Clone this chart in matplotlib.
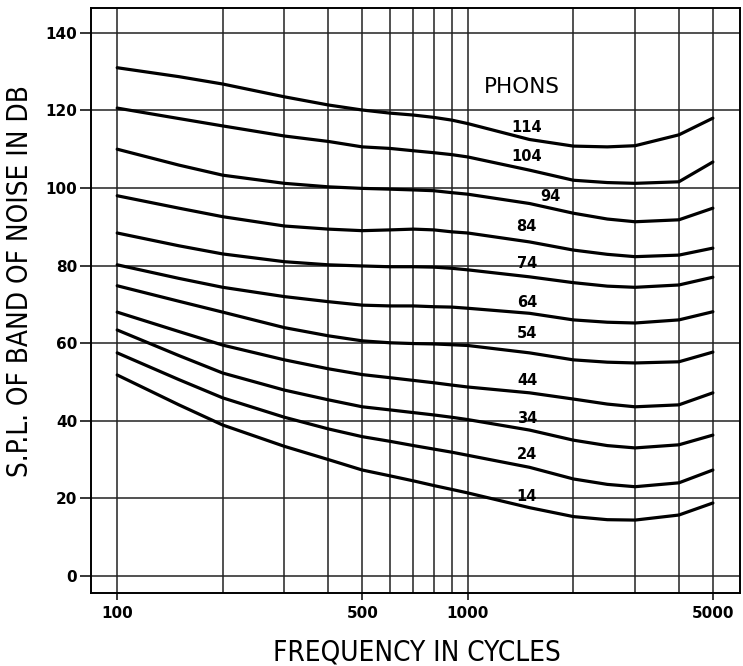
import numpy as np
import matplotlib
matplotlib.use('Agg')
import matplotlib.pyplot as plt
from matplotlib import font_manager

## ------------  Data  ------------------------------------
freq = [100, 150, 200, 300, 400, 500, 600, 700, 800, 900, 1000, 1500, 2000, 2500, 3000, 4000, 5000]
phons = [114, 104, 94, 84, 74, 64, 54, 44, 34, 24, 14]
spl = {
	114: [131.0, 128.7, 126.8, 123.5, 121.4, 120.1, 119.3, 118.8, 118.2, 117.5, 116.6, 112.5, 110.8, 110.6, 110.9, 113.7, 118.0],
	104: [120.6, 117.9, 116.0, 113.4, 112.0, 110.6, 110.2, 109.6, 109.1, 108.6, 108.0, 104.6, 102.0, 101.4, 101.2, 101.6, 106.7],
	94:  [110.0, 105.9, 103.3, 101.2, 100.3, 99.9, 99.7, 99.5, 99.3, 98.8, 98.4, 96.0, 93.5, 92.0, 91.3, 91.8, 94.8],
	84:  [98.0, 94.8, 92.6, 90.2, 89.4, 89.0, 89.2, 89.4, 89.2, 88.7, 88.4, 86.1, 84.0, 82.9, 82.3, 82.7, 84.5],
	74:  [88.4, 85.1, 83.0, 81.0, 80.2, 79.9, 79.7, 79.7, 79.6, 79.3, 78.9, 77.1, 75.6, 74.7, 74.4, 75.0, 77.0],
	64:  [80.2, 76.7, 74.4, 72.0, 70.7, 69.8, 69.6, 69.6, 69.4, 69.3, 69.0, 67.7, 66.0, 65.4, 65.2, 66.0, 68.1],
	54:  [74.8, 70.8, 68.0, 64.0, 61.9, 60.6, 60.1, 59.9, 59.8, 59.6, 59.4, 57.5, 55.7, 55.1, 54.9, 55.2, 57.7],
	44:  [68.0, 63.0, 59.5, 55.7, 53.4, 51.9, 51.1, 50.4, 49.8, 49.2, 48.7, 47.2, 45.6, 44.3, 43.6, 44.1, 47.2],
	34:  [63.4, 56.8, 52.3, 47.9, 45.4, 43.6, 42.8, 42.1, 41.5, 40.9, 40.3, 37.6, 35.0, 33.6, 33.0, 33.8, 36.3],
	24:  [57.5, 50.6, 45.9, 40.9, 37.9, 35.9, 34.7, 33.6, 32.7, 31.9, 31.1, 28.0, 25.0, 23.6, 23.0, 24.0, 27.3],
	14:  [51.8, 44.1, 38.9, 33.4, 30.0, 27.3, 25.8, 24.5, 23.3, 22.3, 21.4, 17.6, 15.3, 14.5, 14.4, 15.7, 18.8],
}
# label positions (freq, dB)
label_pos = {
	114: (1470, 115.7), 104: (1470, 108.0), 94: (1720, 97.7), 84: (1470, 90.2),
	74: (1480, 80.6), 64: (1480, 70.6), 54: (1480, 62.6), 44: (1480, 50.5),
	34: (1480, 40.7), 24: (1480, 31.2), 14: (1470, 20.4),
}
grid_freq = [100, 200, 300, 400, 500, 600, 700, 800, 900, 1000, 2000, 3000, 4000, 5000]
grid_db = [0, 20, 40, 60, 80, 100, 120, 140]
xtick_vals = [100, 500, 1000, 5000]
xtick_labels = ['100', '500', '1000', '5000']

## ------------  Fonts  ---------------
cond = [f for f in font_manager.fontManager.ttflist
	if f.name == 'DejaVu Sans' and str(f.stretch) in ('condensed', 'semi-condensed', '500', '400')]
if cond:
	title_font = dict(family='DejaVu Sans', fontstretch='condensed', fontsize=20)
else:
	title_font = dict(family='DejaVu Sans', fontsize=17.5)

## ------------  Plot  ---------------
fig = plt.figure(figsize=(7.43, 6.66), dpi=100)
ax = fig.add_axes([0.1225, 0.1096, 0.8735, 0.8784])
ax.set_xscale('log')
ax.set_xlim(84.2, 5977)
ax.set_ylim(-4.4, 146.4)

for f in grid_freq:
	ax.axvline(f, color='#222222', lw=1.1, zorder=1)
for d in grid_db:
	ax.axhline(d, color='#222222', lw=1.1, zorder=1)

for p in phons:
	ax.plot(freq, spl[p], color='black', lw=2.3, solid_capstyle='round',
		solid_joinstyle='round', zorder=3)
	x, y = label_pos[p]
	ax.text(x, y, str(p), ha='center', va='center', fontsize=10.5,
		fontweight='bold', zorder=4)
ax.text(1430, 126, 'PHONS', ha='center', va='center', fontsize=15.5)

ax.xaxis.set_major_locator(matplotlib.ticker.FixedLocator(xtick_vals))
ax.xaxis.set_minor_locator(matplotlib.ticker.NullLocator())
ax.set_xticks(xtick_vals)
ax.set_xticklabels(xtick_labels)
ax.set_yticks(grid_db)
ax.tick_params(axis='both', direction='out', width=1.1, colors='black', labelsize=11)
ax.tick_params(axis='y', length=8, pad=2)
ax.tick_params(axis='x', length=5, pad=4)
for lab in ax.get_xticklabels() + ax.get_yticklabels():
	lab.set_fontweight('bold')
for s in ax.spines.values():
	s.set_linewidth(1.4)

fig.text(417 / 743, 0.009, 'FREQUENCY IN CYCLES', ha='center', va='baseline', **title_font)
fig.text(20 / 743, 0.578, 'S.P.L. OF BAND OF NOISE IN DB', ha='center', va='center',
	rotation=90, **title_font)

fig.savefig('out.png', dpi=100)
